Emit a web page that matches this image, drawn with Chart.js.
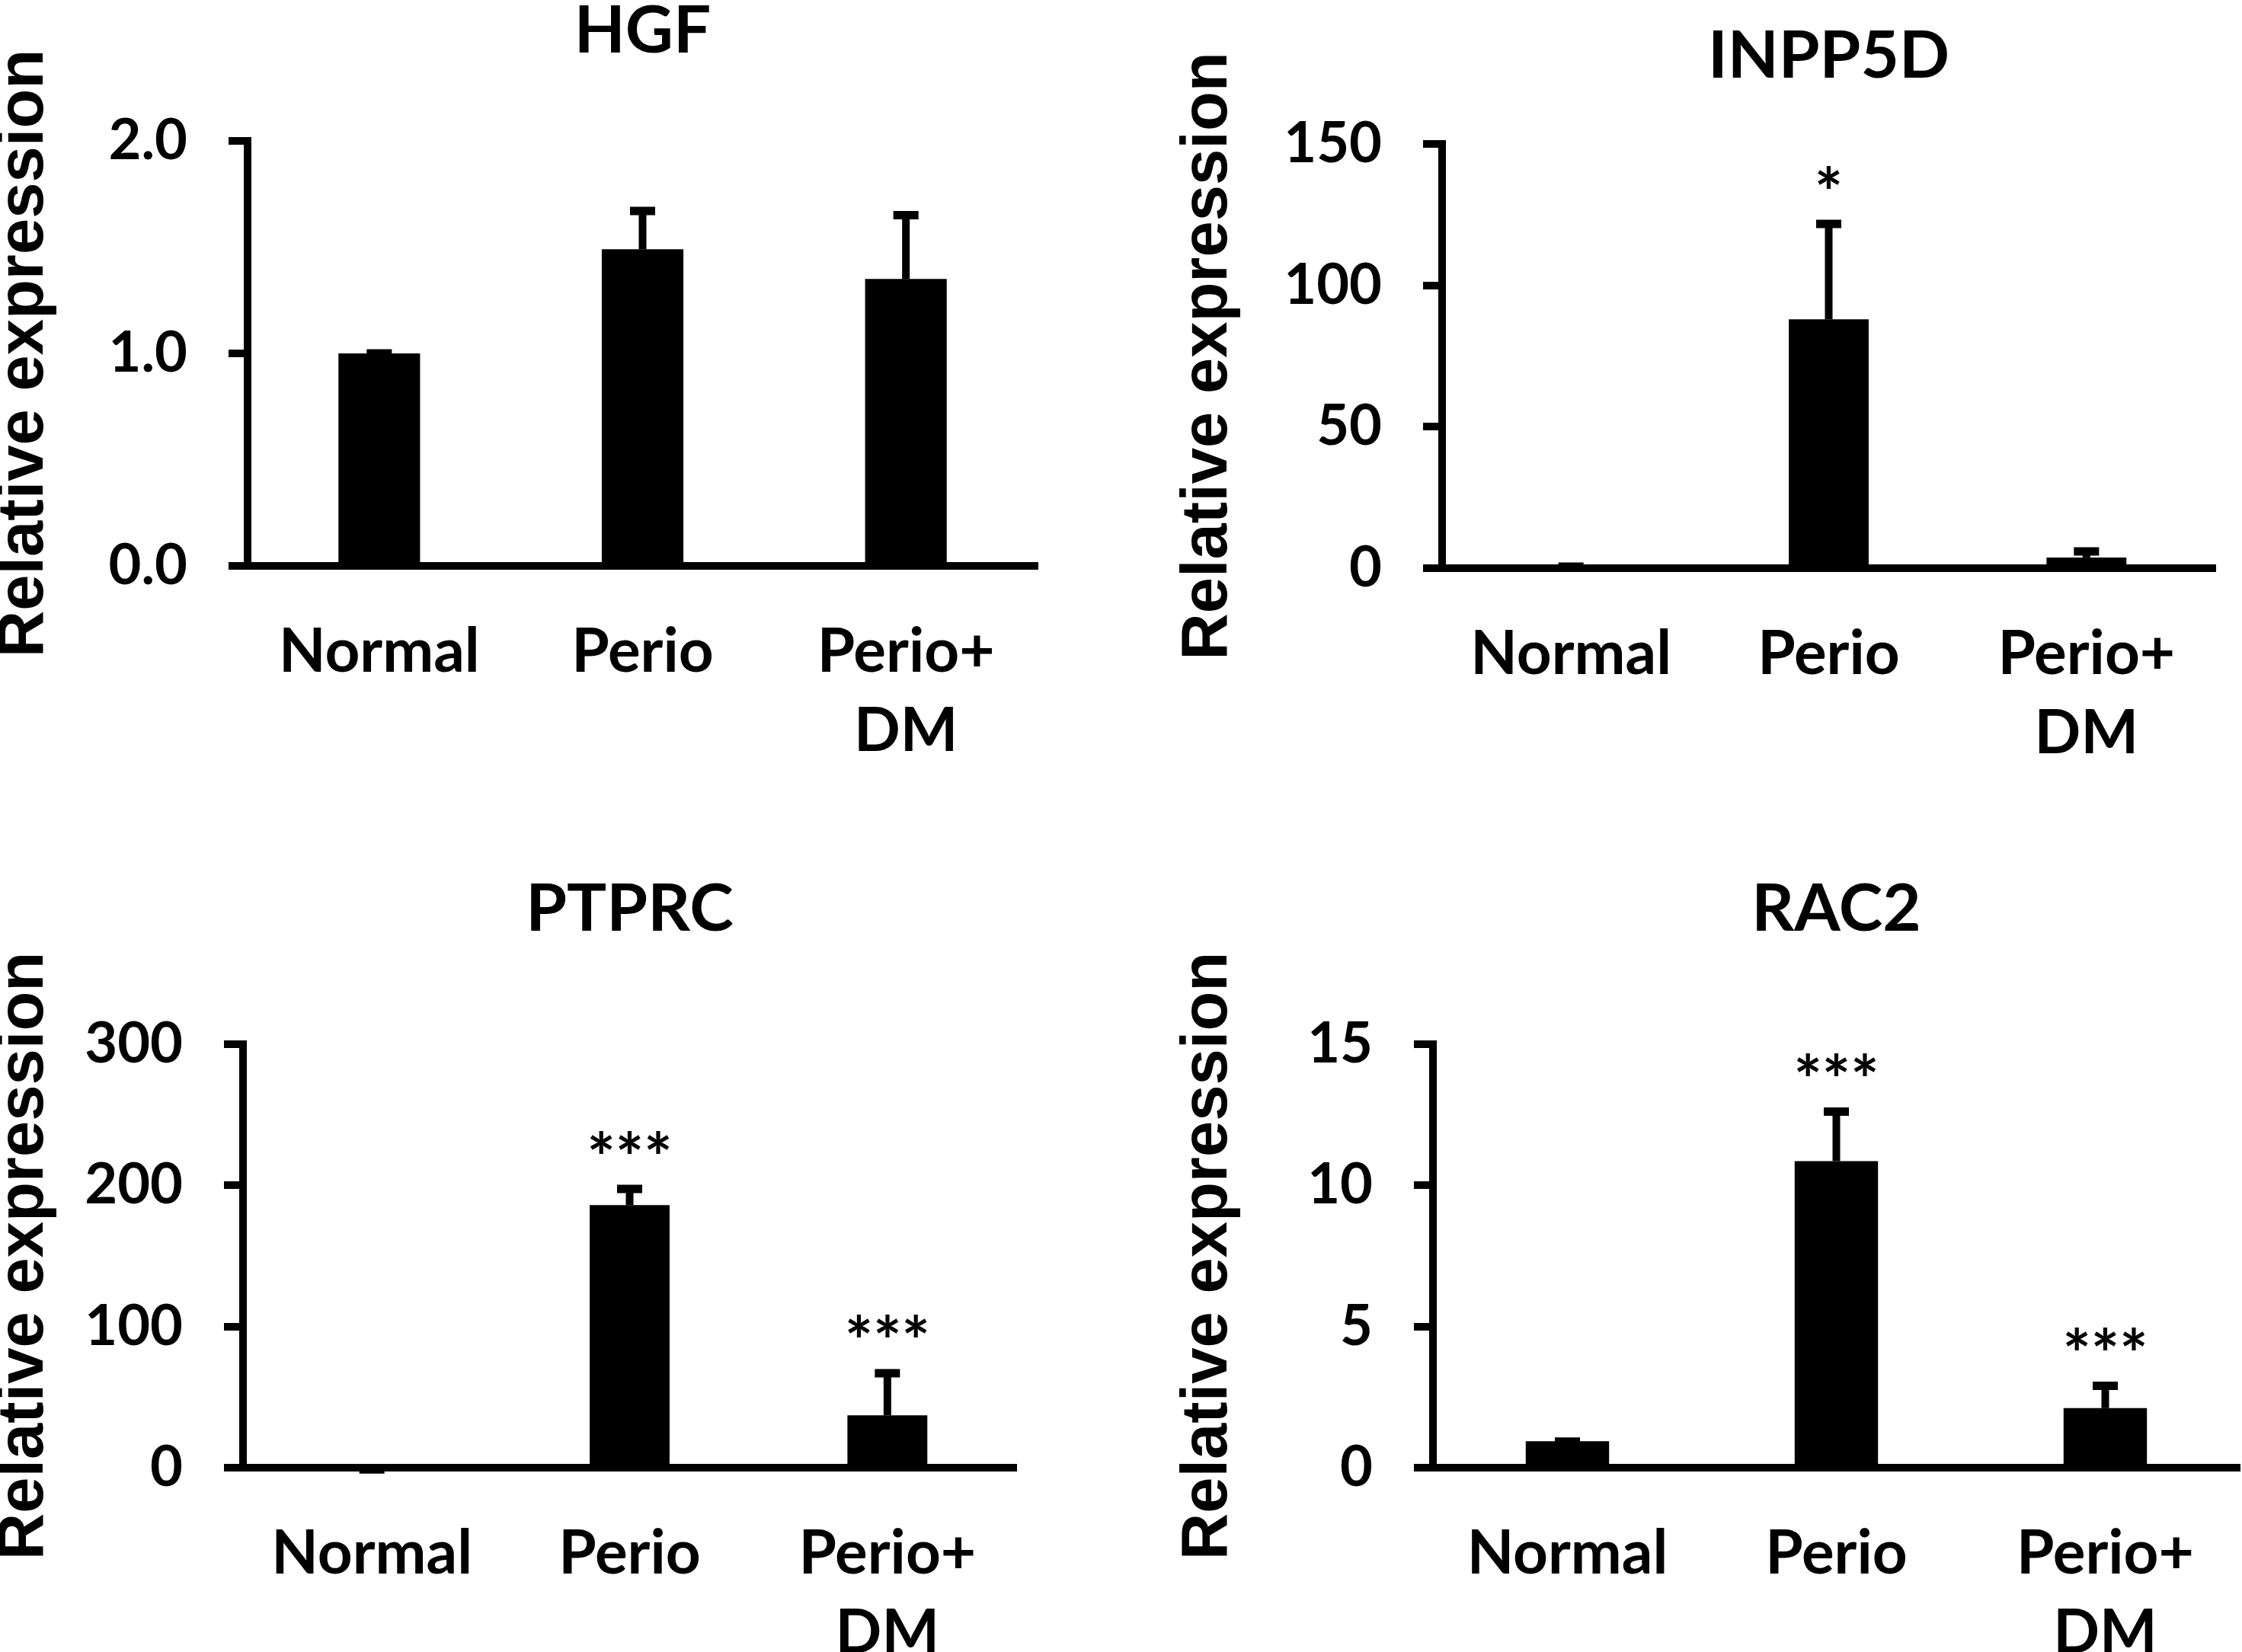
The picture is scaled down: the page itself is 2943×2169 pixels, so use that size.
<!DOCTYPE html>
<html><head><meta charset="utf-8">
<script src="https://cdn.jsdelivr.net/npm/chart.js@4.4.0/dist/chart.umd.min.js"></script>
<style>
html,body{margin:0;padding:0;background:#fff;}
#wrap{position:relative;width:2943px;height:2169px;overflow:hidden;background:#fff;}
canvas{position:absolute;}
</style></head><body><div id="wrap">
<canvas id="c1"></canvas><canvas id="c2"></canvas><canvas id="c3"></canvas><canvas id="c4"></canvas>
</div>
<script>
const categories = [["Normal"], ["Perio"], ["Perio+", "DM"]];

const hgfValues = [1.00, 1.49, 1.35];
const hgfErrors = [0.02, 0.20, 0.32];
const hgfStars = ["", "", ""];
const hgfTicks = [0, 1, 2];
const hgfTickLabels = ["0.0", "1.0", "2.0"];

const inpp5dValues = [1.0, 88.0, 3.8];
const inpp5dErrors = [1.0, 35.2, 3.6];
const inpp5dStars = ["", "*", ""];
const inpp5dTicks = [0, 50, 100, 150];
const inpp5dTickLabels = ["0", "50", "100", "150"];

const ptprcValues = [1.0, 186.0, 37.1];
const ptprcErrors = [0.8, 14.4, 32.8];
const ptprcStars = ["", "***", "***"];
const ptprcTicks = [0, 100, 200, 300];
const ptprcTickLabels = ["0", "100", "200", "300"];

const rac2Values = [0.94, 10.86, 2.11];
const rac2Errors = [0.13, 1.90, 0.94];
const rac2Stars = ["", "***", "***"];
const rac2Ticks = [0, 5, 10, 15];
const rac2TickLabels = ["0", "5", "10", "15"];

const yTitle = "Relative expression";

const panels = [
  {id:'c1', title:'HGF', values:hgfValues, errors:hgfErrors, stars:hgfStars, ticks:hgfTicks, tickLabels:hgfTickLabels,
   canvas:{x:0,y:0,w:1471,h:1085}, area:{l:325,t:185,r:1362,b:743}, titleY:41, yTitleX:33},
  {id:'c2', title:'INPP5D', values:inpp5dValues, errors:inpp5dErrors, stars:inpp5dStars, ticks:inpp5dTicks, tickLabels:inpp5dTickLabels,
   canvas:{x:1471,y:0,w:1472,h:1085}, area:{l:1893,t:189,r:2908,b:746}, titleY:74, yTitleX:1587},
  {id:'c3', title:'PTPRC', values:ptprcValues, errors:ptprcErrors, stars:ptprcStars, ticks:ptprcTicks, tickLabels:ptprcTickLabels,
   canvas:{x:0,y:1090,w:1471,h:1079}, area:{l:319,t:1371,r:1334,b:1927}, titleY:1194, yTitleX:33},
  {id:'c4', title:'RAC2', values:rac2Values, errors:rac2Errors, stars:rac2Stars, ticks:rac2Ticks, tickLabels:rac2TickLabels,
   canvas:{x:1471,y:1090,w:1472,h:1079}, area:{l:1881,t:1371,r:2940,b:1927}, titleY:1194, yTitleX:1587}
];

Chart.defaults.font.family = 'Lato';
Chart.defaults.color = '#000';

panels.forEach(p => {
  const cv = document.getElementById(p.id);
  const c = p.canvas;
  cv.width = c.w; cv.height = c.h;
  cv.style.left = c.x + 'px'; cv.style.top = c.y + 'px';
  cv.style.width = c.w + 'px'; cv.style.height = c.h + 'px';
  const aL = p.area.l - c.x, aT = p.area.t - c.y, aR = p.area.r - c.x, aB = p.area.b - c.y;
  const titleSize = 87, titleLine = 70;
  const tTop = (p.titleY - c.y) - titleLine / 2;
  const yTitleSize = 85, yTitleLH = 0.5;
  const yTitlePadTop = (p.yTitleX - c.x) - yTitleSize * yTitleLH / 2;
  const ymax = p.ticks[p.ticks.length - 1];

  const errPlugin = {
    id: 'errbars_' + p.id,
    afterDatasetsDraw(chart) {
      const ctx = chart.ctx, ys = chart.scales.y, meta = chart.getDatasetMeta(0);
      ctx.save();
      ctx.strokeStyle = '#000'; ctx.fillStyle = '#000'; ctx.lineCap = 'butt';
      meta.data.forEach((bar, i) => {
        const x = bar.x;
        const y0 = ys.getPixelForValue(p.values[i]);
        const y1 = ys.getPixelForValue(p.values[i] + p.errors[i]);
        ctx.lineWidth = 10;
        ctx.beginPath(); ctx.moveTo(x, y0); ctx.lineTo(x, y1 + 5); ctx.stroke();
        ctx.lineWidth = 11;
        ctx.beginPath(); ctx.moveTo(x - 16.5, y1 + 5.5); ctx.lineTo(x + 16.5, y1 + 5.5); ctx.stroke();
        if (p.stars[i]) {
          ctx.font = 'bold 88px Lato';
          ctx.textAlign = 'center'; ctx.textBaseline = 'alphabetic';
          ctx.fillText(p.stars[i], x, y1 - 4);
        }
      });
      ctx.restore();
    }
  };

  new Chart(cv, {
    type: 'bar',
    data: {
      labels: categories,
      datasets: [{
        data: p.values,
        backgroundColor: '#000',
        borderWidth: 0,
        barPercentage: 0.31,
        categoryPercentage: 1
      }]
    },
    options: {
      responsive: false,
      animation: false,
      devicePixelRatio: 1,
      layout: { padding: { left: 0, right: c.w - aR, top: 0, bottom: 0 } },
      plugins: {
        legend: { display: false },
        tooltip: { enabled: false },
        title: {
          display: true, text: p.title, fullSize: false, color: '#000',
          font: { family: 'Lato', weight: 'bold', size: titleSize, lineHeight: titleLine / titleSize },
          padding: { top: tTop, bottom: aT - tTop - titleLine }
        }
      },
      scales: {
        x: {
          offset: true,
          grid: { display: false, drawTicks: false },
          border: { display: true, width: 10, color: '#000' },
          ticks: { color: '#000', font: { family: 'Lato', weight: 'bold', size: 80, lineHeight: 1.29 },
                   padding: 62, maxRotation: 0, minRotation: 0, autoSkip: false },
          afterFit: s => { s.height = c.h - aB; }
        },
        y: {
          min: 0, max: ymax,
          afterBuildTicks: s => { s.ticks = p.ticks.map(v => ({ value: v })); },
          grid: { display: true, drawOnChartArea: false, drawTicks: true, tickLength: 25, lineWidth: 10, color: '#000' },
          border: { display: true, width: 10, color: '#000' },
          ticks: { color: '#000', font: { family: 'Lato', weight: 'bold', size: 74 }, padding: 54,
                   callback: (v, i) => p.tickLabels[i] },
          title: { display: true, text: yTitle, color: '#000',
                   font: { family: 'Liberation Sans', weight: 'bold', size: yTitleSize, lineHeight: yTitleLH },
                   padding: { top: yTitlePadTop, bottom: 0 } },
          afterFit: s => { s.width = aL; }
        }
      }
    },
    plugins: [errPlugin]
  });
});
</script>
</body></html>
